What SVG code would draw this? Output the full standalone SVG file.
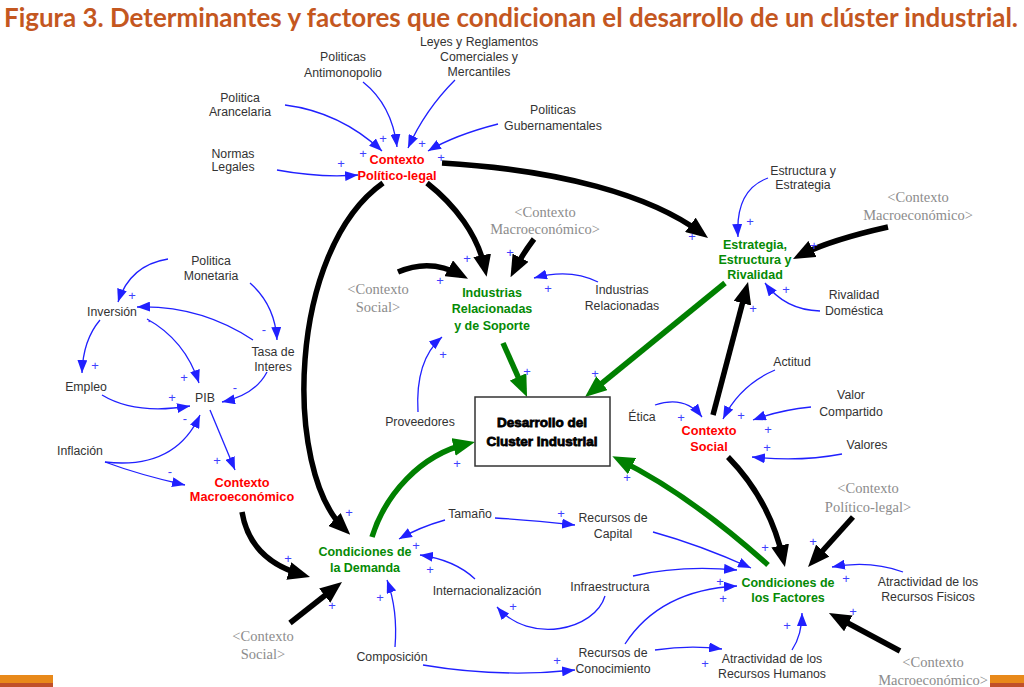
<svg xmlns="http://www.w3.org/2000/svg" width="1024" height="687" viewBox="0 0 1024 687">
<defs>
<style>
.lbl{font-family:'Liberation Sans',Arial,sans-serif;font-size:12.3px;fill:#333;text-anchor:middle}
.red{font-family:'Liberation Sans',Arial,sans-serif;font-size:12.7px;font-weight:bold;fill:#ff0000;text-anchor:middle}
.grn{font-family:'Liberation Sans',Arial,sans-serif;font-size:12.5px;font-weight:bold;fill:#058a05;text-anchor:middle}
.gho{font-family:'Liberation Serif','Times New Roman',serif;font-size:14.5px;fill:#8c8c8c;text-anchor:middle}
.sg{font-family:'Liberation Sans',Arial,sans-serif;font-size:13px;fill:#4040ff;text-anchor:middle}
.bl{fill:none;stroke:#2020ff;stroke-width:1.3;marker-end:url(#ab)}
.bk{fill:none;stroke:#000;stroke-width:5.5;marker-end:url(#ak)}
.gr{fill:none;stroke:#008000;stroke-width:5.5;marker-end:url(#ag)}
</style>
<marker id="ab" markerUnits="userSpaceOnUse" markerWidth="13" markerHeight="10" viewBox="0 0 13 10" refX="13" refY="5" orient="auto"><path d="M0,0 L13,5 L0,10 z" fill="#2020ff"/></marker>
<marker id="ak" markerUnits="userSpaceOnUse" markerWidth="22" markerHeight="18" viewBox="0 0 22 18" refX="14" refY="9" orient="auto"><path d="M0,0 L22,9 L0,18 z" fill="#000"/></marker>
<marker id="ag" markerUnits="userSpaceOnUse" markerWidth="22" markerHeight="18" viewBox="0 0 22 18" refX="14" refY="9" orient="auto"><path d="M0,0 L22,9 L0,18 z" fill="#008000"/></marker>
</defs>
<rect width="1024" height="687" fill="#fff"/>
<text x="4" y="27" font-family="Lato,'Open Sans','Liberation Sans',sans-serif" font-weight="bold" font-size="26" fill="#C4571F" textLength="1014" lengthAdjust="spacingAndGlyphs">Figura 3. Determinantes y factores que condicionan el desarrollo de un clúster industrial.</text>
<rect x="0" y="675" width="53" height="8" fill="#E8891A"/>
<rect x="0" y="683" width="53" height="4" fill="#C0502A"/>
<rect x="990" y="675" width="34" height="8" fill="#E8891A"/>
<rect x="990" y="683" width="34" height="4" fill="#C0502A"/>

<g id="connectors">
<path class="bl" d="M285,105 Q340,112 382,151"/>
<path class="bl" d="M363,82 Q392,105 397,147"/>
<path class="bl" d="M455,80 Q425,110 408,148"/>
<path class="bl" d="M498,124 Q455,135 428,151"/>
<path class="bl" d="M277,170 Q320,178 358,175"/>
<path class="bk" d="M442,163 C560,170 650,195 701.6,233.2"/>
<path class="bk" d="M427,183 C455,205 478,235 485,269"/>
<path class="bk" d="M383,183 C288,250 283,470 344.5,529.2"/>
<path class="bk" d="M534,239 Q522,255 514.2,270.2"/>
<path class="bk" d="M398,272 Q430,258 461,275"/>
<path class="bk" d="M888,227 Q830,240 800.1,255.3"/>
<path class="bk" d="M713,415 L746,289.7"/>
<path class="bk" d="M728,457 Q770,500 783.2,559.2"/>
<path class="bk" d="M853,517 L813.4,561"/>
<path class="bk" d="M900,651 L836,616.8"/>
<path class="bk" d="M242,512 Q250,560 302.3,574.8"/>
<path class="bk" d="M290,623 L335.7,587"/>
<path class="gr" d="M503,343 L523.8,389.7"/>
<path class="gr" d="M725,283 L591.2,392"/>
<path class="gr" d="M372,537 C385,495 420,455 467.2,443.8"/>
<path class="gr" d="M768,565 Q690,495 619.5,459.9"/>
<path class="bl" d="M768,178 Q735,190 738,237"/>
<path class="bl" d="M820,311 Q785,310 765,283"/>
<path class="bl" d="M598,282 Q570,268 534,278"/>
<path class="bl" d="M418,412 Q415,360 442,337"/>
<path class="bl" d="M775,370 Q740,385 723,419"/>
<path class="bl" d="M811,407 Q780,410 753,420"/>
<path class="bl" d="M842,454 Q800,462 752,457"/>
<path class="bl" d="M655,405 Q685,395 702,417"/>
<path class="bl" d="M903,572 Q870,560 832,567"/>
<path class="bl" d="M792,650 Q802,635 802,613"/>
<path class="bl" d="M655,650 Q690,645 722,649"/>
<path class="bl" d="M625,644 Q660,590 737,586"/>
<path class="bl" d="M633,576 Q680,565 737,570"/>
<path class="bl" d="M605,596 C595,630 530,645 497,607"/>
<path class="bl" d="M653,532 Q700,545 751,568"/>
<path class="bl" d="M495,518 Q530,520 575,525"/>
<path class="bl" d="M445,520 Q420,527 399,539"/>
<path class="bl" d="M475,579 Q455,560 420,555"/>
<path class="bl" d="M395,647 Q398,610 387,580"/>
<path class="bl" d="M423,665 Q500,678 575,670"/>
<path class="bl" d="M168,259 Q130,265 118,302"/>
<path class="bl" d="M250,283 Q275,305 277,340"/>
<path class="bl" d="M253,340 Q200,305 137,307"/>
<path class="bl" d="M267,372 Q255,395 222,402"/>
<path class="bl" d="M100,320 Q83,340 82,373"/>
<path class="bl" d="M147,319 Q185,340 199,383"/>
<path class="bl" d="M102,395 Q135,415 190,406"/>
<path class="bl" d="M105,462 Q175,470 200,415"/>
<path class="bl" d="M105,462 Q140,475 185,485"/>
<path class="bl" d="M210,410 L235,470"/>
</g>

<g id="signs">
<text class="sg" x="383" y="143">+</text>
<text class="sg" x="363" y="158">+</text>
<text class="sg" x="341" y="168">+</text>
<text class="sg" x="422" y="148">+</text>
<text class="sg" x="441" y="162">+</text>
<text class="sg" x="510" y="257">+</text>
<text class="sg" x="467" y="263">+</text>
<text class="sg" x="440" y="285">+</text>
<text class="sg" x="548" y="293">+</text>
<text class="sg" x="443" y="359">+</text>
<text class="sg" x="527" y="376">+</text>
<text class="sg" x="595" y="378">+</text>
<text class="sg" x="457" y="468">+</text>
<text class="sg" x="627" y="482">+</text>
<text class="sg" x="692" y="241">+</text>
<text class="sg" x="750" y="226">+</text>
<text class="sg" x="814" y="250">+</text>
<text class="sg" x="786" y="294">+</text>
<text class="sg" x="753" y="313">+</text>
<text class="sg" x="681" y="422">+</text>
<text class="sg" x="741" y="420">+</text>
<text class="sg" x="768" y="434">+</text>
<text class="sg" x="767" y="452">+</text>
<text class="sg" x="765" y="552">+</text>
<text class="sg" x="813" y="546">+</text>
<text class="sg" x="846" y="583">+</text>
<text class="sg" x="853" y="616">+</text>
<text class="sg" x="787" y="630">+</text>
<text class="sg" x="720" y="586">+</text>
<text class="sg" x="723" y="603">+</text>
<text class="sg" x="561" y="518">+</text>
<text class="sg" x="557" y="665">+</text>
<text class="sg" x="705" y="668">+</text>
<text class="sg" x="349" y="517">+</text>
<text class="sg" x="288" y="563">+</text>
<text class="sg" x="332" y="610">+</text>
<text class="sg" x="380" y="602">+</text>
<text class="sg" x="416" y="550">+</text>
<text class="sg" x="430" y="574">+</text>
<text class="sg" x="513" y="611">+</text>
<text class="sg" x="132" y="300">+</text>
<text class="sg" x="264" y="334">-</text>
<text class="sg" x="150" y="325">-</text>
<text class="sg" x="95" y="370">+</text>
<text class="sg" x="184" y="382">+</text>
<text class="sg" x="172" y="402">+</text>
<text class="sg" x="235" y="392">-</text>
<text class="sg" x="185" y="423">-</text>
<text class="sg" x="170" y="476">-</text>
<text class="sg" x="217" y="465">+</text>
</g>

<g id="leyes"><text class="lbl" x="479" y="46">Leyes y Reglamentos</text><text class="lbl" x="479" y="61">Comerciales y</text><text class="lbl" x="479" y="76">Mercantiles</text></g>
<g id="antimonopolio"><text class="lbl" x="343" y="61">Politicas</text><text class="lbl" x="343" y="77">Antimonopolio</text></g>
<g id="arancelaria"><text class="lbl" x="240" y="102">Politica</text><text class="lbl" x="240" y="116">Arancelaria</text></g>
<g id="gubernamentales"><text class="lbl" x="553" y="114">Politicas</text><text class="lbl" x="553" y="130">Gubernamentales</text></g>
<g id="normas"><text class="lbl" x="233" y="158">Normas</text><text class="lbl" x="233" y="171">Legales</text></g>
<g id="contexto-politico"><text class="red" x="397" y="164">Contexto</text><text class="red" x="397" y="180">Político-legal</text></g>

<g id="macro-ghost-1"><text class="gho" x="545" y="217">&lt;Contexto</text><text class="gho" x="545" y="234">Macroeconómico&gt;</text></g>
<g id="social-ghost-1"><text class="gho" x="378" y="294">&lt;Contexto</text><text class="gho" x="378" y="312">Social&gt;</text></g>
<g id="industrias"><text class="grn" x="492" y="297">Industrias</text><text class="grn" x="492" y="313">Relacionadas</text><text class="grn" x="492" y="330">y de Soporte</text></g>
<g id="industrias-rel"><text class="lbl" x="622" y="294">Industrias</text><text class="lbl" x="622" y="310">Relacionadas</text></g>
<g id="proveedores"><text class="lbl" x="420" y="426">Proveedores</text></g>

<g id="desarrollo"><rect x="475" y="397" width="135" height="69" fill="#fff" stroke="#333" stroke-width="1.5"/><text x="542" y="427" font-family="'Liberation Sans',Arial,sans-serif" font-size="13.5" font-weight="bold" fill="#000" stroke="#000" stroke-width="0.8" text-anchor="middle">Desarrollo del</text><text x="542" y="446" font-family="'Liberation Sans',Arial,sans-serif" font-size="13.5" font-weight="bold" fill="#000" stroke="#000" stroke-width="0.8" text-anchor="middle">Cluster Industrial</text></g>

<g id="estrategia"><text class="grn" x="755" y="249">Estrategia,</text><text class="grn" x="755" y="264">Estructura y</text><text class="grn" x="755" y="279">Rivalidad</text></g>
<g id="estructura"><text class="lbl" x="803" y="175">Estructura y</text><text class="lbl" x="803" y="189">Estrategia</text></g>
<g id="macro-ghost-2"><text class="gho" x="918" y="202">&lt;Contexto</text><text class="gho" x="918" y="220">Macroeconómico&gt;</text></g>
<g id="rivalidad"><text class="lbl" x="854" y="299">Rivalidad</text><text class="lbl" x="854" y="315">Doméstica</text></g>

<g id="contexto-social"><text class="red" x="709" y="435">Contexto</text><text class="red" x="709" y="451">Social</text></g>
<g id="actitud"><text class="lbl" x="792" y="366">Actitud</text></g>
<g id="valor"><text class="lbl" x="851" y="399">Valor</text><text class="lbl" x="851" y="416">Compartido</text></g>
<g id="valores"><text class="lbl" x="867" y="449">Valores</text></g>
<g id="etica"><text class="lbl" x="642" y="421">Ética</text></g>

<g id="factores"><text class="grn" x="788" y="587">Condiciones de</text><text class="grn" x="788" y="602">los Factores</text></g>
<g id="politico-ghost"><text class="gho" x="868" y="493">&lt;Contexto</text><text class="gho" x="868" y="512">Político-legal&gt;</text></g>
<g id="fisicos"><text class="lbl" x="928" y="586">Atractividad de los</text><text class="lbl" x="928" y="601">Recursos Fisicos</text></g>
<g id="macro-ghost-3"><text class="gho" x="933" y="667">&lt;Contexto</text><text class="gho" x="933" y="685">Macroeconómico&gt;</text></g>
<g id="humanos"><text class="lbl" x="772" y="663">Atractividad de los</text><text class="lbl" x="772" y="678">Recursos Humanos</text></g>
<g id="conocimiento"><text class="lbl" x="613" y="657">Recursos de</text><text class="lbl" x="613" y="673">Conocimiento</text></g>
<g id="infraestructura"><text class="lbl" x="610" y="591">Infraestructura</text></g>
<g id="capital"><text class="lbl" x="613" y="522">Recursos de</text><text class="lbl" x="613" y="538">Capital</text></g>
<g id="tamano"><text class="lbl" x="470" y="518">Tamaño</text></g>
<g id="internacionalizacion"><text class="lbl" x="487" y="595">Internacionalización</text></g>
<g id="composicion"><text class="lbl" x="392" y="661">Composición</text></g>
<g id="demanda"><text class="grn" x="365" y="556">Condiciones de</text><text class="grn" x="365" y="572">la Demanda</text></g>
<g id="social-ghost-2"><text class="gho" x="263" y="641">&lt;Contexto</text><text class="gho" x="263" y="659">Social&gt;</text></g>

<g id="monetaria"><text class="lbl" x="211" y="265">Politica</text><text class="lbl" x="211" y="280">Monetaria</text></g>
<g id="inversion"><text class="lbl" x="112" y="316">Inversión</text></g>
<g id="tasa"><text class="lbl" x="273" y="356">Tasa de</text><text class="lbl" x="273" y="371">Interes</text></g>
<g id="empleo"><text class="lbl" x="86" y="391">Empleo</text></g>
<g id="pib"><text class="lbl" x="205" y="402">PIB</text></g>
<g id="inflacion"><text class="lbl" x="80" y="455">Inflación</text></g>
<g id="contexto-macro"><text class="red" x="242" y="487">Contexto</text><text class="red" x="242" y="501">Macroeconómico</text></g>
</svg>
